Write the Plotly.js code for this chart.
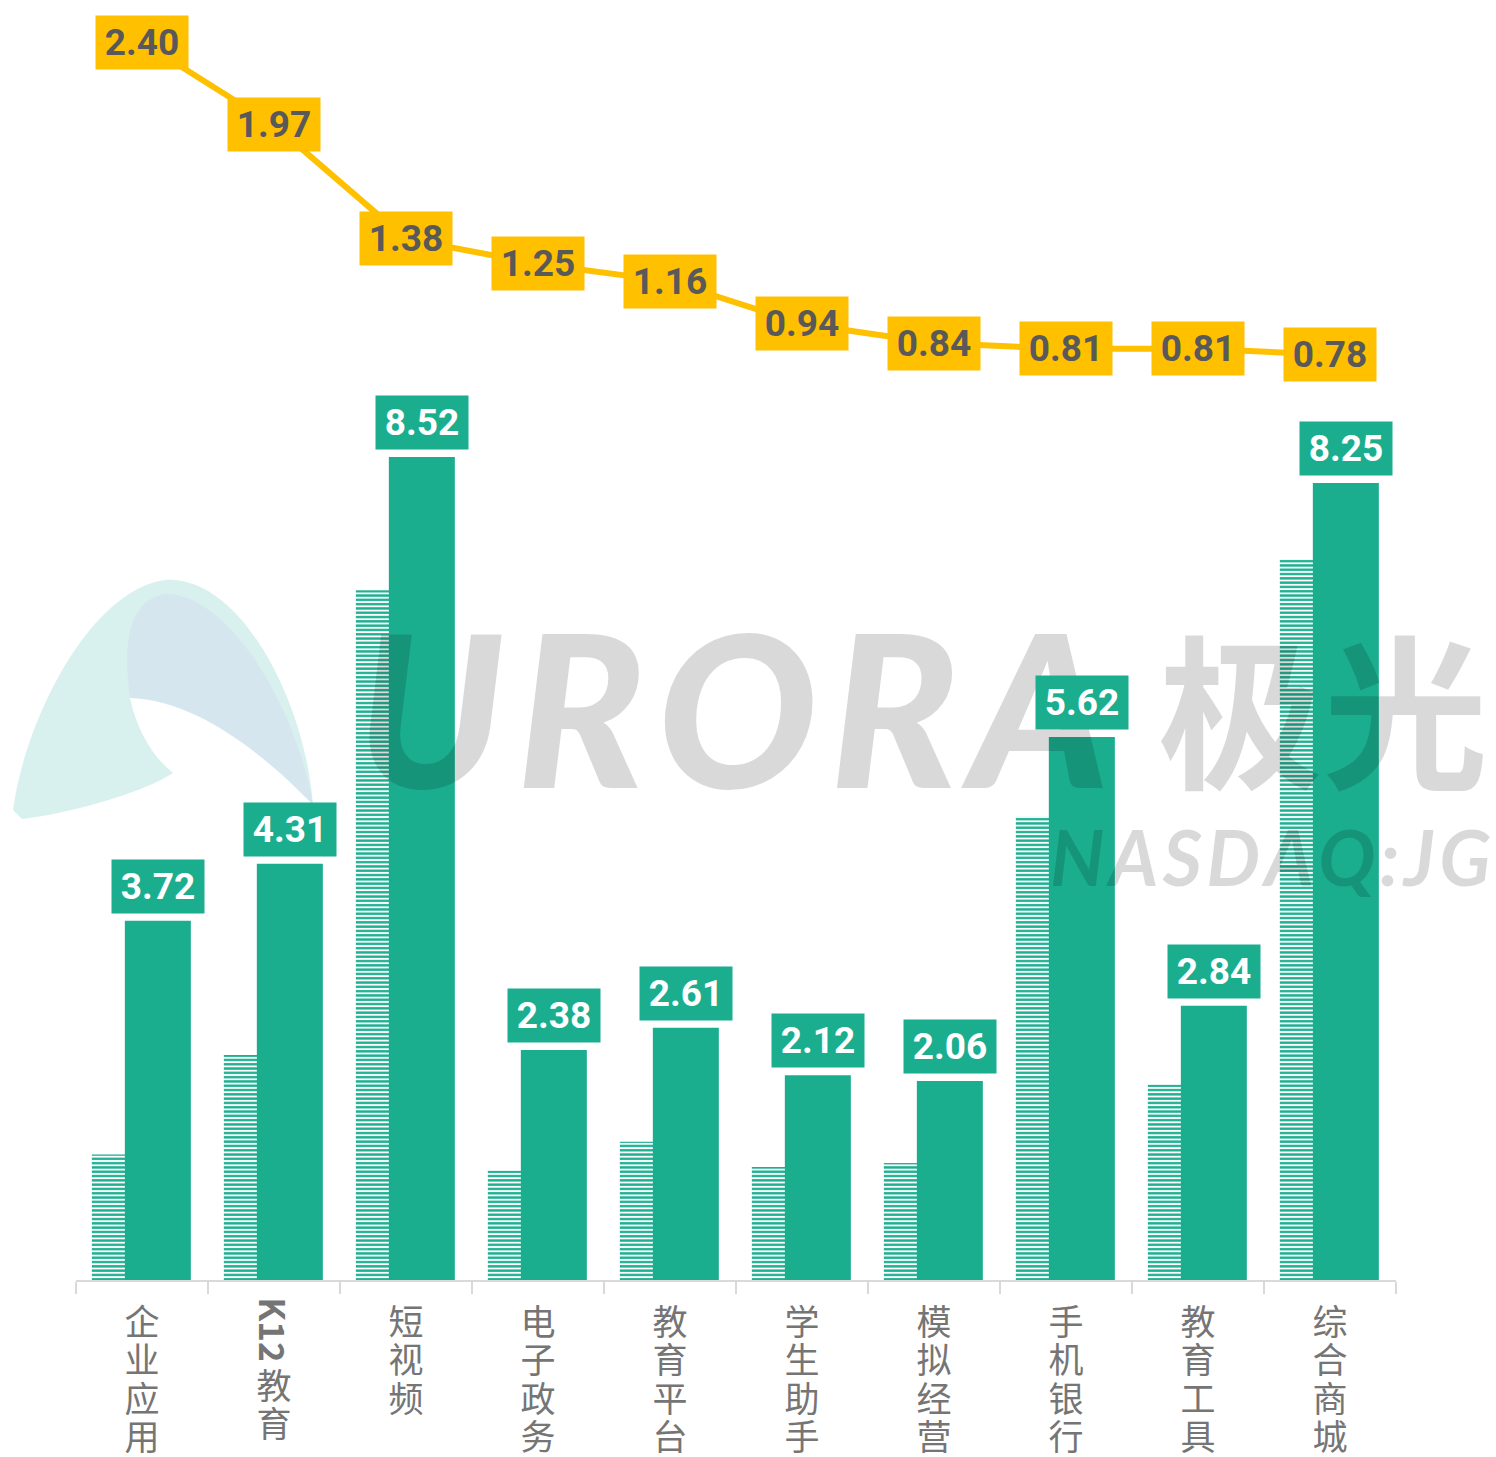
<!DOCTYPE html>
<html>
<head>
<meta charset="utf-8">
<script src="https://cdn.plot.ly/plotly-3.0.1.min.js"></script>
<style>html,body{margin:0;padding:0;background:#fff;}#chart{width:1496px;height:1457px;}</style>
</head>
<body>
<div id="chart"></div>
<script>
const categories = ['企业应用','K12教育','短视频','电子政务','教育平台','学生助手','模拟经营','手机银行','教育工具','综合商城'];
const barValues = [3.72,4.31,8.52,2.38,2.61,2.12,2.06,5.62,2.84,8.25];
const hatchValues = [1.30,2.33,7.14,1.13,1.43,1.17,1.21,4.80,2.02,7.46];
const lineValues = [2.40,1.97,1.38,1.25,1.16,0.94,0.84,0.81,0.81,0.78];

const GREEN = '#1AAE8F';
const YELLOW = '#FFC000';
const W = 1496, H = 1457;
const M = {l:76, r:100, t:0, b:177};
const PW = W - M.l - M.r, PH = H - M.t - M.b;
const px = x => (x - M.l) / PW;
const py = y => (M.t + PH - y) / PH;

const traces = [
  {
    type:'bar', x:categories, y:hatchValues, width:0.5, offset:-0.38,
    marker:{color:GREEN, line:{width:0},
      pattern:{shape:'-', fillmode:'replace', fgcolor:GREEN, bgcolor:'#ffffff', size:4.3, solidity:0.55}},
    hoverinfo:'skip'
  },
  {
    type:'bar', x:categories, y:barValues, width:0.5, offset:-0.13,
    marker:{color:GREEN, line:{width:0}}, hoverinfo:'skip'
  },
  {
    type:'scatter', mode:'lines', x:categories, y:lineValues, yaxis:'y2',
    line:{color:YELLOW, width:6}, hoverinfo:'skip'
  }
];

const annotations = [];
// watermark
const WM = 'rgba(0,0,0,0.15)';
const HS = '\u200A';
annotations.push({xref:'paper', yref:'paper', x:px(733), y:py(706), xanchor:'center', yanchor:'middle', showarrow:false,
  text:['U','R','O','R','A'].join(HS), font:{family:'Lato', size:212, weight:900, style:'italic', color:WM}});
annotations.push({xref:'paper', yref:'paper', x:px(1323), y:py(704), xanchor:'center', yanchor:'middle', showarrow:false,
  text:'极光', font:{family:'Noto Sans CJK SC', size:165, weight:700, color:WM}});
annotations.push({xref:'paper', yref:'paper', x:px(1270), y:py(856), xanchor:'center', yanchor:'middle', showarrow:false,
  text:'NASDAQ:JG'.split('').join(HS), font:{family:'Lato', size:76, weight:700, style:'italic', color:WM}});

// bar labels
barValues.forEach((v,i) => {
  annotations.push({xref:'x', yref:'y', x:i+0.12, y:v, xanchor:'center', yanchor:'bottom', yshift:7,
    showarrow:false, text:v.toFixed(2), bgcolor:GREEN, width:92, height:53, borderpad:0,
    font:{family:'Roboto', size:37, weight:700, color:'#ffffff'}});
});
// line labels
lineValues.forEach((v,i) => {
  annotations.push({xref:'x', yref:'y2', x:i, y:v, xanchor:'center', yanchor:'middle',
    showarrow:false, text:v.toFixed(2), bgcolor:YELLOW, width:92, height:53, borderpad:0,
    font:{family:'Roboto', size:37, weight:700, color:'#595959'}});
});
// category labels (vertical writing)
const labelFont = {family:'Noto Sans CJK SC', size:35, color:'#757575'};
categories.forEach((c,i) => {
  const tokens = c.match(/[A-Za-z0-9]+|./g);
  let cursor = 1300;
  tokens.forEach(t => {
    if (/^[A-Za-z0-9]+$/.test(t)) {
      const h = t.length * 20;
      annotations.push({xref:'x', yref:'paper', x:i, y:0, yshift:-(cursor + h/2 - 1280), xanchor:'center', yanchor:'middle',
        showarrow:false, text:'<b>'+t+'</b>', textangle:90, font:labelFont, height:34, width:h});
      cursor += h + 4;
    } else {
      annotations.push({xref:'x', yref:'paper', x:i, y:0, yshift:-(cursor + 19 - 1280), xanchor:'center', yanchor:'middle',
        showarrow:false, text:t, font:labelFont, height:37, width:36});
      cursor += 38.5;
    }
  });
});

// faint logo watermark shapes (pixel -> paper)
function path(pts){ return pts.map(s => s.replace(/(-?\d+(?:\.\d+)?),(-?\d+(?:\.\d+)?)/g, (m,a,b)=> px(+a).toFixed(5)+','+py(+b).toFixed(5))).join(' '); }
const shapes = [
  {type:'path', xref:'paper', yref:'paper', layer:'below', line:{width:0}, fillcolor:'rgba(204,236,232,0.75)',
   path: path(['M 13,810','C 25,720 90,590 165,580','C 240,575 305,700 313,805','C 270,760 200,700 130,698','C 138,735 155,758 173,773','C 140,795 60,815 22,819','Z'])},
  {type:'path', xref:'paper', yref:'paper', layer:'below', line:{width:0}, fillcolor:'rgba(210,216,240,0.4)',
   path: path(['M 130,698','C 122,640 130,600 165,594','C 225,592 295,700 313,805','C 270,760 200,700 130,698','Z'])}
];

const layout = {
  width:W, height:H, margin:M,
  paper_bgcolor:'#ffffff', plot_bgcolor:'#ffffff',
  showlegend:false, barmode:'overlay', hovermode:false,
  font:{family:"Roboto, 'Noto Sans CJK SC', sans-serif"},
  xaxis:{type:'category', range:[-0.5,9.5], showline:true, linecolor:'#d9d9d9', linewidth:2,
    ticks:'outside', ticklen:12, tickwidth:2, tickcolor:'#d9d9d9', tickson:'boundaries',
    showticklabels:false, showgrid:false, zeroline:false, fixedrange:true},
  yaxis:{range:[0, PH/96.6], visible:false, showgrid:false, zeroline:false, fixedrange:true},
  yaxis2:{overlaying:'y', range:[2.40 - (PH-42)/193, 2.40 + 42/193], visible:false, showgrid:false, zeroline:false, fixedrange:true},
  annotations:annotations, shapes:shapes
};

Plotly.newPlot('chart', traces, layout, {displayModeBar:false, staticPlot:true});
</script>
</body>
</html>
